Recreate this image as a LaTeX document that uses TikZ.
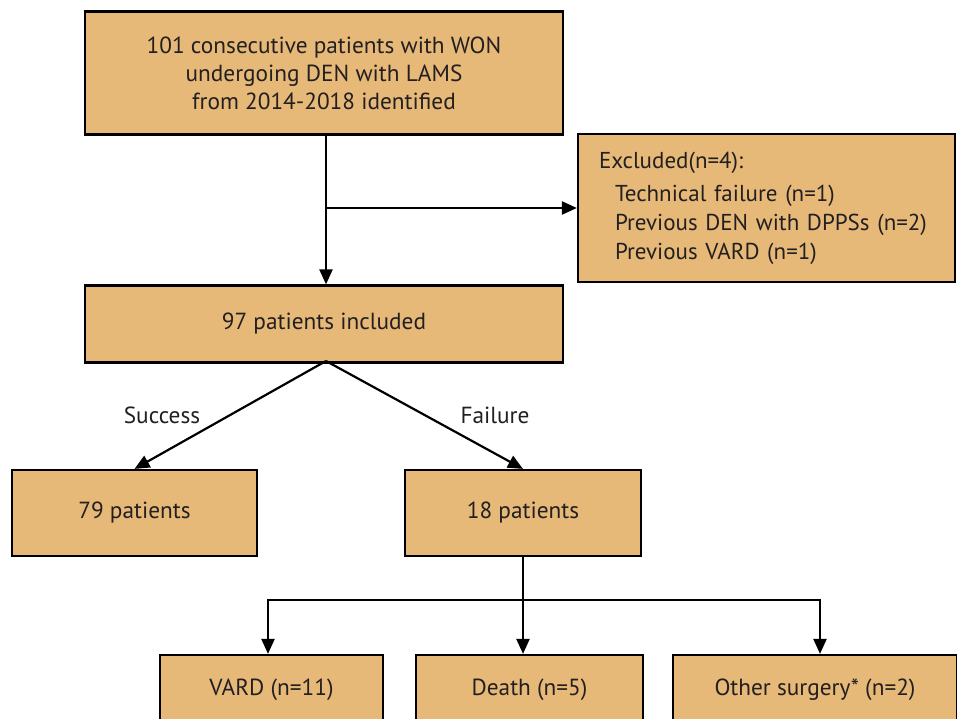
\documentclass[tikz,border=0pt]{standalone}
\usepackage{fontspec}
\setmainfont{PT Sans}
\usetikzlibrary{arrows.meta}
\definecolor{boxfill}{RGB}{230,185,120}
\definecolor{txt}{RGB}{35,31,32}
\tikzset{
  box/.style={draw=black, line width=2.2pt, fill=boxfill, text=txt, font=\fontsize{23.3}{28}\selectfont, align=center, inner sep=0pt},
  conn/.style={line width=2.2pt, draw=black},
  arr/.style={conn, -{Triangle[length=15pt,width=13pt]}},
  lbl/.style={text=txt, font=\fontsize{23.3}{28}\selectfont}
}
\begin{document}
\begin{tikzpicture}[x=1pt,y=-1pt]
\useasboundingbox (0,0) rectangle (957,719);
\clip (0,0) rectangle (957,719);
\fill[white] (0,0) rectangle (957,719);
\node[box, minimum width=478pt, minimum height=123pt] (top) at (324,73) {101 consecutive patients with WON\\undergoing DEN with LAMS\\from 2014-2018 identified};
\node[box, minimum width=377pt, minimum height=148pt, text width=335pt, align=left, font=\fontsize{23}{29}\selectfont] (excl) at (766.5,208)
  {Excluded(n=4):\\[4pt]
   \hspace*{16pt}Technical failure (n=1)\\
   \hspace*{16pt}Previous DEN with DPPSs (n=2)\\
   \hspace*{16pt}Previous VARD (n=1)};
\node[box, minimum width=478pt, minimum height=77pt] (incl) at (324,324) {97 patients included};
\node[box, minimum width=245pt, minimum height=86pt] (succ) at (134.5,513) {79 patients};
\node[box, minimum width=236pt, minimum height=86pt] (fail) at (523,513) {18 patients};
\node[box, minimum width=223pt, minimum height=70pt] (vard) at (271.5,690) {VARD (n=11)};
\node[box, minimum width=227pt, minimum height=70pt] (death) at (529.5,690) {Death (n=5)};
\node[box, minimum width=284pt, minimum height=70pt] (other) at (815,690) {Other surgery* (n=2)};
\coordinate (split) at (326,208);
\coordinate (apex) at (326,361);
\coordinate (fork) at (523,600);
\draw[arr] (top.south -| split) -- (incl.north -| split);
\draw[arr] (split) -- (split -| excl.west);
\draw[arr] (apex) -- (succ.north);
\draw[arr] (apex) -- (fail.north);
\node[lbl] at (162,415) {Success};
\node[lbl] at (495,415) {Failure};
\draw[conn] (fail.south) -- (fork);
\draw[arr] (fork) -| (vard.north -| 268,0);
\draw[arr] (fork) -- (death.north -| fork);
\draw[arr] (fork) -| (other.north -| 820,0);
\end{tikzpicture}
\end{document}
